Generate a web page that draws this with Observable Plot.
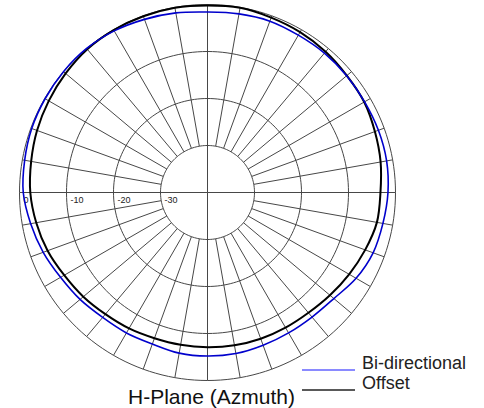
<!DOCTYPE html>
<html><head><meta charset="utf-8">
<script src="https://cdn.jsdelivr.net/npm/d3@7"></script>
<script src="https://cdn.jsdelivr.net/npm/@observablehq/plot@0.6"></script>
<style>
body{margin:0;background:#fff;}
#wrap{position:relative;width:484px;height:408px;font-family:Arial,"Liberation Sans",sans-serif;}
#wrap svg.overlay{position:absolute;left:0;top:0;}
</style></head><body><div id="wrap"></div>
<script>
// azimuth angle (degrees, clockwise from top)
const angles = [0,10,20,30,40,50,60,70,80,90,100,110,120,130,140,150,160,170,180,190,200,210,220,230,240,250,260,270,280,290,300,310,320,330,340,350];
// relative gain (dB)
const biDirectional = [-1.6,-1.4,-1.2,-1.35,-1.3,-1.35,-1.4,-1.3,-1.3,-1.6,-2.1,-2.5,-3.5,-4.9,-5.4,-5.5,-5.4,-5.2,-5.2,-5.3,-5.7,-5.5,-5.3,-4.6,-3.9,-2.8,-1.8,-0.8,-0.5,-0.2,-0.1,0,0,-0.3,-0.8,-1.2];
const offset = [-0.2,-0.1,-0.4,-0.6,-0.9,-1.3,-1.5,-2.1,-2.6,-3.2,-3.4,-4.3,-5.2,-6.0,-6.6,-6.8,-6.9,-7.0,-7.1,-7.1,-7.0,-6.6,-6.2,-5.5,-4.8,-3.8,-3.0,-2.3,-1.9,-1.4,-1.0,-0.6,-0.2,-0.1,-0.1,-0.1];
const rings = [0,-10,-20,-30];
const ringLabels = ["0","-10","-20","-30"];
const spokeAngles = [0,10,20,30,40,50,60,70,80,90,100,110,120,130,140,150,160,170,180,190,200,210,220,230,240,250,260,270,280,290,300,310,320,330,340,350];
const title = "H-Plane (Azmuth)";
const seriesNames = ["Bi-directional","Offset"];
const seriesColors = ["#0000cc","#000000"];
const legendColors = ["#8a8aff","#222222"];

const MIN = -40;
const rad = db => db - MIN;
const px = (a, db) => rad(db) * Math.sin(a * Math.PI / 180);
const py = (a, db) => rad(db) * Math.cos(a * Math.PI / 180);

const ringPts = rings.flatMap(db => d3.range(0, 361, 2).map(a => ({db, a})));
const bi = angles.map((a, i) => ({a, db: biDirectional[i]}));
const off = angles.map((a, i) => ({a, db: offset[i]}));
const gridColor = "#474747";

const chart = Plot.plot({
  width: 484,
  height: 408,
  marginLeft: 19,
  marginRight: 89,
  marginTop: 4,
  marginBottom: 28,
  x: {axis: null, domain: [-40, 40]},
  y: {axis: null, domain: [-40, 40]},
  style: {background: "#fff"},
  marks: [
    Plot.line(ringPts, {x: d => px(d.a, d.db), y: d => py(d.a, d.db), z: "db", stroke: gridColor, strokeWidth: 1}),
    Plot.link(spokeAngles.filter(a => a % 90 !== 0), {
      x1: a => px(a, -30), y1: a => py(a, -30), x2: a => px(a, 0), y2: a => py(a, 0),
      stroke: gridColor, strokeWidth: 1
    }),
    Plot.link(spokeAngles.filter(a => a % 90 === 0), {
      x1: a => px(a, MIN), y1: a => py(a, MIN), x2: a => px(a, 0), y2: a => py(a, 0),
      stroke: gridColor, strokeWidth: 1
    }),
    Plot.text(rings, {
      x: db => -rad(db), y: 0, text: (d, i) => ringLabels[i],
      dx: 4, dy: 4, textAnchor: "start", lineAnchor: "top",
      fontSize: 9, fill: "#222", fontFamily: "Arial, 'Liberation Sans', sans-serif"
    }),
    Plot.line(off, {x: d => px(d.a, d.db), y: d => py(d.a, d.db), curve: "catmull-rom-closed", stroke: seriesColors[1], strokeWidth: 2}),
    Plot.line(bi, {x: d => px(d.a, d.db), y: d => py(d.a, d.db), curve: "catmull-rom-closed", stroke: seriesColors[0], strokeWidth: 1.6})
  ]
});

const wrap = document.getElementById("wrap");
wrap.appendChild(chart);

// title and legend overlay
const ns = "http://www.w3.org/2000/svg";
const ov = document.createElementNS(ns, "svg");
ov.setAttribute("class", "overlay");
ov.setAttribute("width", 484);
ov.setAttribute("height", 408);
const t = document.createElementNS(ns, "text");
t.setAttribute("x", 128); t.setAttribute("y", 404);
t.setAttribute("font-size", 21); t.setAttribute("fill", "#111");
t.setAttribute("font-family", "Arial, 'Liberation Sans', sans-serif");
t.textContent = title;
ov.appendChild(t);
const legY = [370, 390];
seriesNames.forEach((name, i) => {
  const l = document.createElementNS(ns, "line");
  l.setAttribute("x1", 302); l.setAttribute("x2", 355);
  l.setAttribute("y1", legY[i]); l.setAttribute("y2", legY[i]);
  l.setAttribute("stroke", legendColors[i]);
  l.setAttribute("stroke-width", i === 0 ? 2 : 1.5);
  ov.appendChild(l);
  const tx = document.createElementNS(ns, "text");
  tx.setAttribute("x", 362); tx.setAttribute("y", legY[i] - 1);
  tx.setAttribute("font-size", 18); tx.setAttribute("fill", "#222");
  tx.setAttribute("font-family", "Arial, 'Liberation Sans', sans-serif");
  tx.textContent = name;
  ov.appendChild(tx);
});
wrap.appendChild(ov);
</script></body></html>
